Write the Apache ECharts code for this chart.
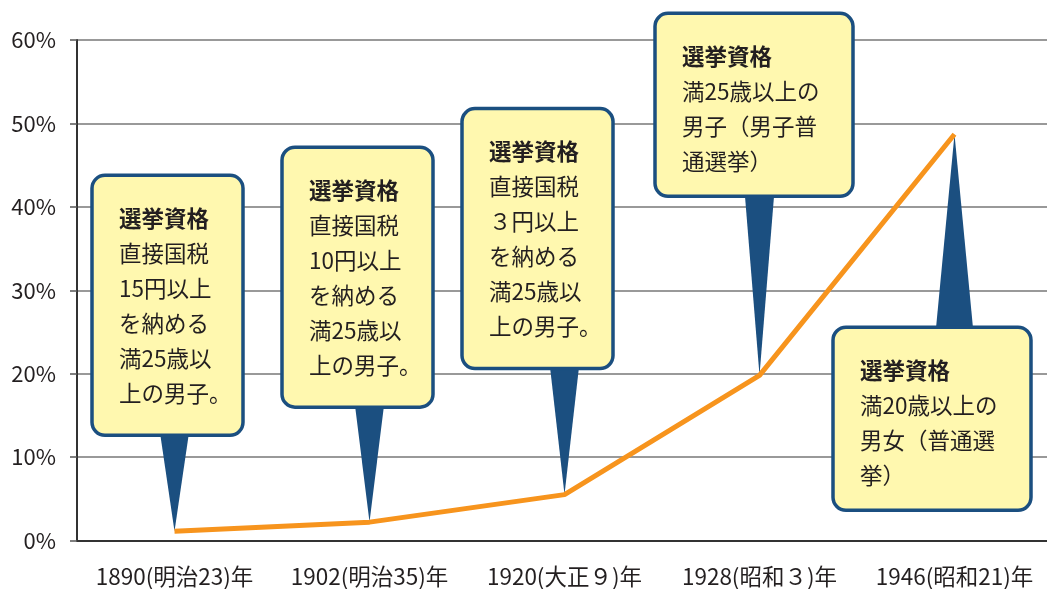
<!DOCTYPE html>
<html>
<head>
<meta charset="utf-8">
<script src="https://cdn.jsdelivr.net/npm/echarts@6/dist/echarts.min.js"></script>
<style>
html,body{margin:0;padding:0;background:#fff;}
#chart{width:1047px;height:589px;}
</style>
</head>
<body>
<div id="chart"></div>
<script>
// ---- data ----
var categories = ['1890(明治23)年', '1902(明治35)年', '1920(大正９)年', '1928(昭和３)年', '1946(昭和21)年'];
var voterShare = [1.1, 2.2, 5.5, 19.8, 48.7];
var yTicks = [0, 10, 20, 30, 40, 50, 60];
var calloutTitle = '選挙資格';
var calloutLines = [
  ['直接国税', '15円以上', 'を納める', '満25歳以', '上の男子。'],
  ['直接国税', '10円以上', 'を納める', '満25歳以', '上の男子。'],
  ['直接国税', '３円以上', 'を納める', '満25歳以', '上の男子。'],
  ['満25歳以上の', '男子（男子普', '通選挙）'],
  ['満20歳以上の', '男女（普通選', '挙）']
];

// ---- layout of callouts (relative to the data point) ----
var calloutLayout = [
  {dx: -82.5, dy: -356, w: 151, h: 260, base: 30},
  {dx: -87.5, dy: -375, w: 151, h: 260, base: 30},
  {dx: -102.5, dy: -386, w: 151, h: 260, base: 30},
  {dx: -104.5, dy: -362, w: 198, h: 183, base: 30},
  {dx: -121.5, dy: 193, w: 198, h: 183, base: 38}
];

var FONT = '"Noto Sans CJK JP", "Noto Sans", sans-serif';
var TEXT = '#231F20';
var BLUE = '#1B4F80';

function renderCallout(params, api) {
  var i = params.dataIndex;
  var p = api.coord([api.value(0), api.value(1)]);
  var L = calloutLayout[i];
  var bx = p[0] + L.dx, by = p[1] + L.dy;
  var below = by > p[1];
  var baseY = below ? by + 6 : by + L.h - 6;
  var lines = ['{t|' + calloutTitle + '}'].concat(calloutLines[i].map(function (s) { return '{b|' + s + '}'; }));
  return {
    type: 'group',
    children: [
      {type: 'polygon', shape: {points: [[p[0] - L.base / 2, baseY], [p[0] + L.base / 2, baseY], [p[0], p[1]]]},
        style: {fill: BLUE}},
      {type: 'rect', shape: {x: bx, y: by, width: L.w, height: L.h, r: 13},
        style: {fill: '#FFF8AF', stroke: BLUE, lineWidth: 3.5}},
      {type: 'text', x: bx + 27, y: by + 25.5,
        style: {
          text: lines.join('\n'),
          verticalAlign: 'top', align: 'left',
          fill: TEXT,
          rich: {
            t: {fontFamily: FONT, fontWeight: 'bold', fontSize: 22.5, lineHeight: 35, fill: TEXT},
            b: {fontFamily: FONT, fontSize: 22.5, lineHeight: 35, fill: TEXT}
          }
        }}
    ]
  };
}

var chart = echarts.init(document.getElementById('chart'), null, {renderer: 'canvas'});
chart.setOption({
  animation: false,
  grid: {left: 77, top: 40, width: 975, height: 500.5, containLabel: false, outerBoundsMode: 'none'},
  xAxis: {
    type: 'category',
    data: categories,
    boundaryGap: true,
    axisLine: {lineStyle: {color: '#333', width: 2}},
    axisTick: {show: false},
    axisLabel: {fontFamily: FONT, fontSize: 22.5, color: TEXT, margin: 25, interval: 0}
  },
  yAxis: {
    type: 'value',
    min: yTicks[0], max: yTicks[yTicks.length - 1], interval: 10,
    axisLine: {show: true, lineStyle: {color: '#333', width: 2}},
    axisTick: {show: true, length: 7, lineStyle: {color: '#555', width: 1.5}},
    splitLine: {lineStyle: {color: '#777', width: 1.5}},
    axisLabel: {fontFamily: FONT, fontSize: 22, color: TEXT, margin: 21, formatter: '{value}%'}
  },
  series: [
    {
      type: 'custom',
      z: 2,
      clip: false,
      renderItem: renderCallout,
      encode: {x: 0, y: 1},
      data: voterShare.map(function (v, i) { return [i, v]; })
    },
    {
      type: 'line',
      z: 3,
      data: voterShare,
      symbol: 'none',
      lineStyle: {color: '#F7941D', width: 5},
      itemStyle: {color: '#F7941D'}
    }
  ]
});
</script>
</body>
</html>
